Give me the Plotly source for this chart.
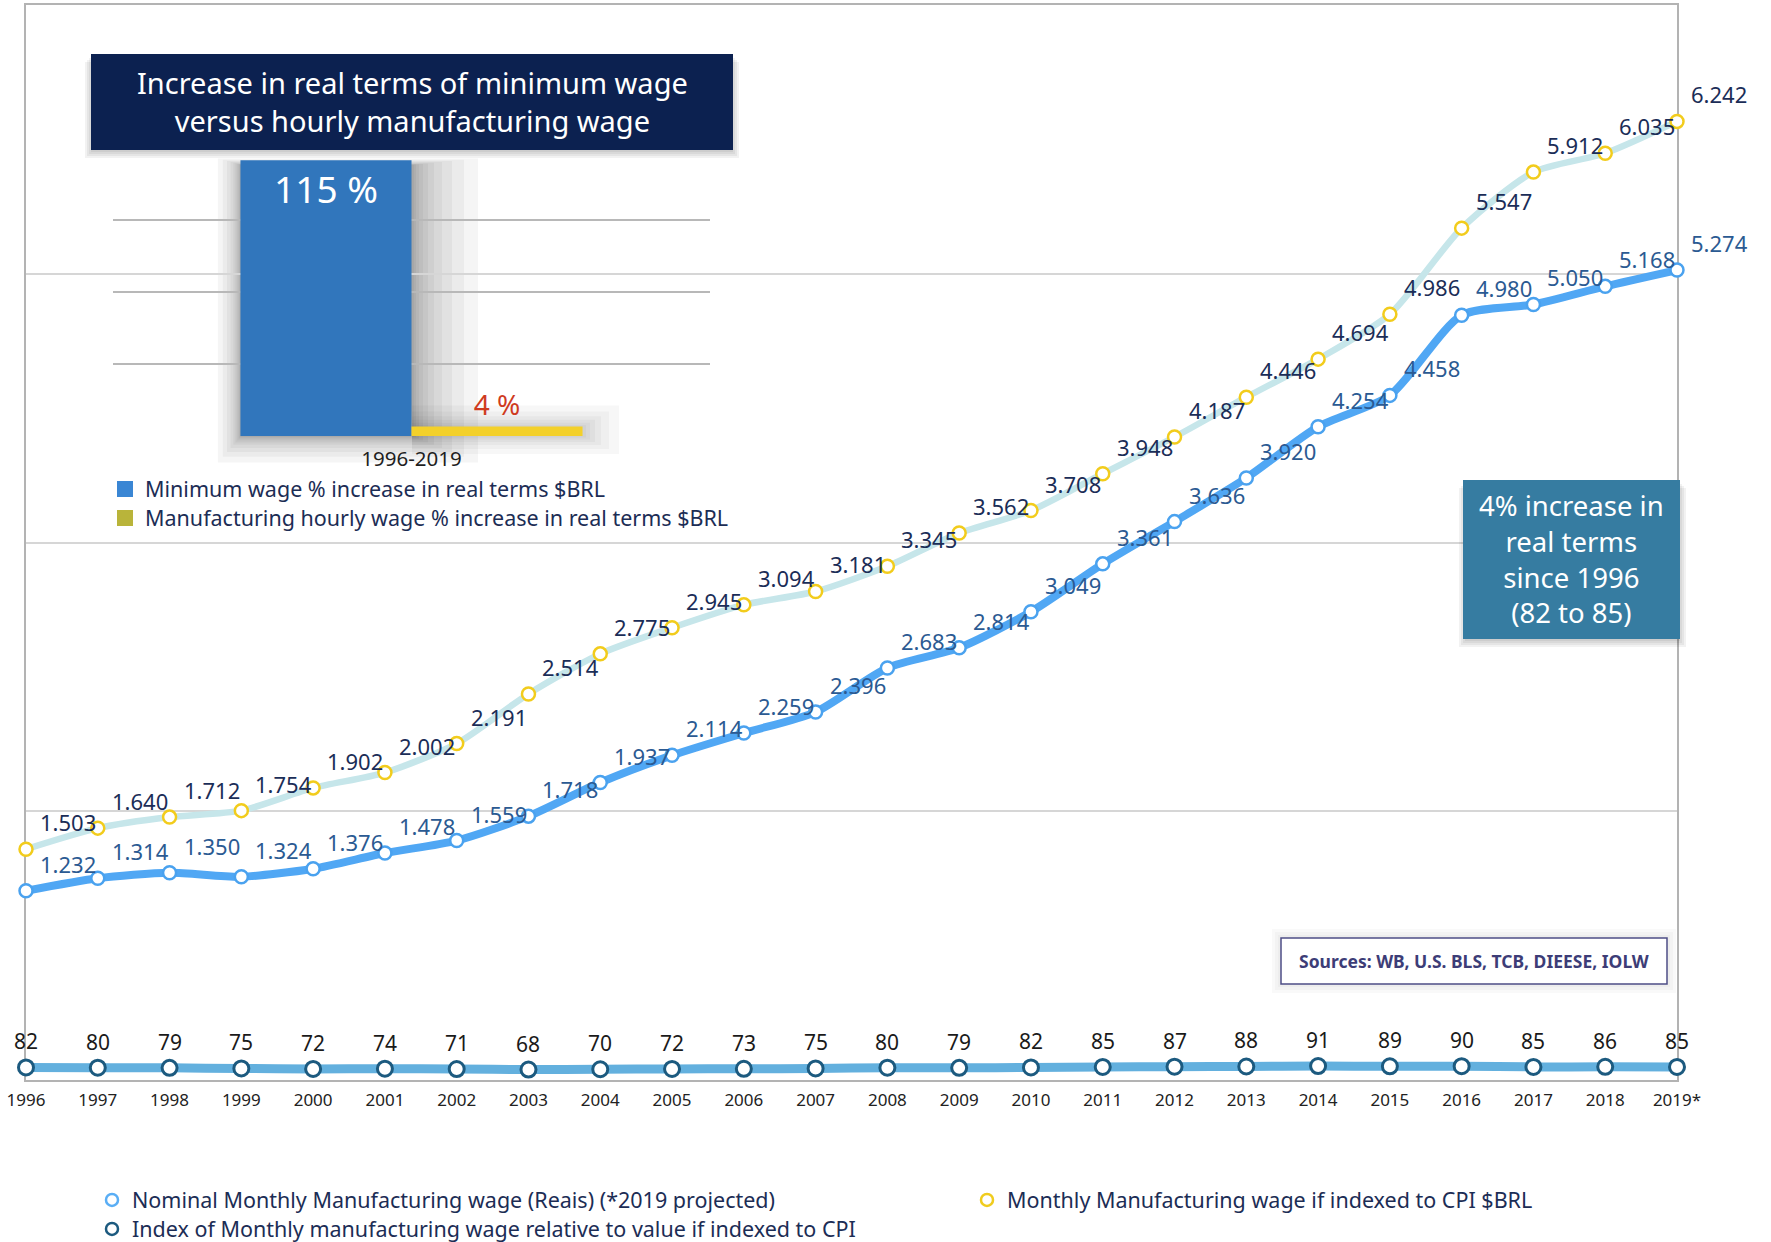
import plotly.graph_objects as go

# ---------------- data ----------------
years = ["1996", "1997", "1998", "1999", "2000", "2001", "2002", "2003", "2004", "2005",
         "2006", "2007", "2008", "2009", "2010", "2011", "2012", "2013", "2014", "2015",
         "2016", "2017", "2018", "2019*"]
nominal = [1232, 1314, 1350, 1324, 1376, 1478, 1559, 1718, 1937, 2114, 2259, 2396,
           2683, 2814, 3049, 3361, 3636, 3920, 4254, 4458, 4980, 5050, 5168, 5274]
indexed_cpi = [1503, 1640, 1712, 1754, 1902, 2002, 2191, 2514, 2775, 2945, 3094, 3181,
               3345, 3562, 3708, 3948, 4187, 4446, 4694, 4986, 5547, 5912, 6035, 6242]
index_rel = [82, 80, 79, 75, 72, 74, 71, 68, 70, 72, 73, 75, 80, 79, 82, 85, 87, 88,
             91, 89, 90, 85, 86, 85]

inset_category = ["1996-2019"]
min_wage_increase = [115]
manuf_wage_increase = [4]

FONT = "'Noto Sans', Lato, sans-serif"
W, H = 1771, 1242
ML, MR, MT, MB = 26, 94, 5, 162
PW, PH = W - ML - MR, H - MT - MB


def px(xp):
    return (xp - ML) / PW


def py(yp):
    return (H - MB - yp) / PH


def fmt(v):
    return f"{v:,}".replace(",", ".")


fig = go.Figure()

# main lines
fig.add_trace(go.Scatter(
    x=years, y=indexed_cpi, mode="lines+markers", showlegend=False,
    line=dict(color="#c6e6ea", width=6.5, shape="spline", smoothing=0.7),
    marker=dict(symbol="circle", size=13, color="white", line=dict(color="#f2cc1c", width=2.5)),
    cliponaxis=False, hoverinfo="x+y"))
fig.add_trace(go.Scatter(
    x=years, y=nominal, mode="lines+markers", showlegend=False,
    line=dict(color="#50a7f4", width=8, shape="spline", smoothing=0.7),
    marker=dict(symbol="circle", size=13, color="white", line=dict(color="#4aa2ef", width=2.5)),
    cliponaxis=False, hoverinfo="x+y"))
fig.add_trace(go.Scatter(
    x=years, y=index_rel, mode="lines+markers", showlegend=False,
    line=dict(color="#63b0de", width=9, shape="spline", smoothing=0.7),
    marker=dict(symbol="circle", size=15, color="white", line=dict(color="#1c5a7f", width=3)),
    cliponaxis=False, hoverinfo="x+y"))

# legend entries (markers only), one legend per entry for exact placement
fig.add_trace(go.Scatter(
    x=[None], y=[None], mode="markers", name="Nominal Monthly Manufacturing wage (Reais) (*2019 projected)",
    marker=dict(symbol="circle", size=12, color="white", line=dict(color="#5aaef5", width=2.5)),
    legend="legend"))
fig.add_trace(go.Scatter(
    x=[None], y=[None], mode="markers", name="Monthly Manufacturing wage if indexed to CPI $BRL",
    marker=dict(symbol="circle", size=12, color="white", line=dict(color="#f0cc1e", width=2.5)),
    legend="legend3"))
fig.add_trace(go.Scatter(
    x=[None], y=[None], mode="markers", name="Index of Monthly manufacturing wage relative to value if indexed to CPI",
    marker=dict(symbol="circle", size=12, color="white", line=dict(color="#1c5a7f", width=2.5)),
    legend="legend4"))

# inset bars
fig.add_trace(go.Bar(
    x=inset_category, y=min_wage_increase, xaxis="x2", yaxis="y2", showlegend=False,
    marker=dict(color="#3176bc", line=dict(width=0)),
    text=[f"{v} %" for v in min_wage_increase], textposition="inside", insidetextanchor="end",
    textangle=0, constraintext="none",
    textfont=dict(family=FONT, size=37, color="white"), cliponaxis=False))
fig.add_trace(go.Bar(
    x=inset_category, y=manuf_wage_increase, xaxis="x2", yaxis="y2", showlegend=False,
    marker=dict(color="#f3d02a", line=dict(width=0)),
    text=[f"{v} %" for v in manuf_wage_increase], textposition="outside", textangle=0,
    constraintext="none",
    textfont=dict(family=FONT, size=28, color="#cf3b1f"), cliponaxis=False))

# inset legend entries
fig.add_trace(go.Scatter(
    x=[None], y=[None], mode="markers", name="Minimum wage % increase in real terms $BRL",
    marker=dict(symbol="square", size=16, color="#3a86d4"), legend="legend2"))
fig.add_trace(go.Scatter(
    x=[None], y=[None], mode="markers", name="Manufacturing hourly wage % increase in real terms $BRL",
    marker=dict(symbol="square", size=16, color="#b9b43a"), legend="legend5"))

annotations = []
for i, v in enumerate(indexed_cpi):
    annotations.append(dict(x=i, y=v, xref="x", yref="y", text=fmt(v), showarrow=False,
                            xanchor="left", yanchor="middle", xshift=12, yshift=27,
                            font=dict(family=FONT, size=22, color="#1b2d57")))
for i, v in enumerate(nominal):
    annotations.append(dict(x=i, y=v, xref="x", yref="y", text=fmt(v), showarrow=False,
                            xanchor="left", yanchor="middle", xshift=12, yshift=27,
                            font=dict(family=FONT, size=22, color="#2b5a92")))
for i, v in enumerate(index_rel):
    annotations.append(dict(x=i, y=v, xref="x", yref="y", text=str(v), showarrow=False,
                            xanchor="center", yanchor="middle", yshift=26,
                            font=dict(family=FONT, size=21, color="#1a1a1a")))

# title box text
annotations.append(dict(xref="paper", yref="paper", x=px(412), y=py(101), showarrow=False,
                        text="Increase in real terms of minimum wage<br>versus hourly manufacturing wage",
                        align="center", xanchor="center", yanchor="middle",
                        font=dict(family=FONT, size=29, color="white")))
# 4% box text
annotations.append(dict(xref="paper", yref="paper", x=px(1571), y=py(559), showarrow=False,
                        text="4% increase in<br>real terms<br>since 1996<br>(82 to 85)",
                        align="center", xanchor="center", yanchor="middle",
                        font=dict(family=FONT, size=27.5, color="white")))
# sources box text
annotations.append(dict(xref="paper", yref="paper", x=px(1474), y=py(961), showarrow=False,
                        text="<b>Sources: WB, U.S. BLS, TCB, DIEESE, IOLW</b>",
                        xanchor="center", yanchor="middle",
                        font=dict(family=FONT, size=17.5, color="#3d3d77")))

shapes = []
# soft shadow around the inset bars (blur approximated by stacked translucent rects)
for e in [2, 4, 7, 11, 16, 22, 30, 40, 52, 66]:
    shapes.append(dict(type="rect", xref="paper", yref="paper", layer="below",
                       x0=px(241 - 0.35 * e), x1=px(412 + e), y0=py(436 + 0.4 * e), y1=py(165 - 0.1 * e),
                       fillcolor="rgba(0,0,0,0.04)", line=dict(width=0)))
for e in [3, 7, 12, 18, 26, 36]:
    shapes.append(dict(type="rect", xref="paper", yref="paper", layer="below",
                       x0=px(412), x1=px(583 + e), y0=py(436 + 0.5 * e), y1=py(427 - 0.6 * e),
                       fillcolor="rgba(0,0,0,0.03)", line=dict(width=0)))
# title box shadow + box
for i in range(4):
    o = 2 * (i + 1)
    shapes.append(dict(type="rect", xref="paper", yref="paper", layer="above",
                       x0=px(91 - o + 2), x1=px(733 + o - 2), y0=py(150 + o), y1=py(54 + o),
                       fillcolor="rgba(0,0,0,0.05)", line=dict(width=0)))
shapes.append(dict(type="rect", xref="paper", yref="paper", layer="above",
                   x0=px(91), x1=px(733), y0=py(150), y1=py(54),
                   fillcolor="#0c2150", line=dict(width=0)))
# 4% box shadow + box
for i in range(4):
    o = 2 * (i + 1)
    shapes.append(dict(type="rect", xref="paper", yref="paper", layer="above",
                       x0=px(1463 - o + 4), x1=px(1680 + o - 2), y0=py(639 + o), y1=py(480 + o),
                       fillcolor="rgba(0,0,0,0.05)", line=dict(width=0)))
shapes.append(dict(type="rect", xref="paper", yref="paper", layer="above",
                   x0=px(1463), x1=px(1680), y0=py(639), y1=py(480),
                   fillcolor="#367ca1", line=dict(width=0)))
# sources box
for i in range(3):
    o = 3 * (i + 1)
    shapes.append(dict(type="rect", xref="paper", yref="paper", layer="above",
                       x0=px(1281 - o), x1=px(1667 + o), y0=py(984 + o), y1=py(938 - o),
                       fillcolor="rgba(0,0,0,0.025)", line=dict(width=0)))
shapes.append(dict(type="rect", xref="paper", yref="paper", layer="above",
                   x0=px(1281), x1=px(1667), y0=py(984), y1=py(938),
                   fillcolor="white", line=dict(color="#4d4d86", width=1.5)))

legend_common = dict(orientation="v", xanchor="left", yanchor="middle",
                     font=dict(family=FONT, size=21.5, color="#1c2d55"),
                     bgcolor="rgba(0,0,0,0)", borderwidth=0)

fig.update_layout(
    width=W, height=H,
    margin=dict(l=ML, r=MR, t=MT, b=MB, pad=0, autoexpand=False),
    paper_bgcolor="white", plot_bgcolor="rgba(0,0,0,0)",
    font=dict(family=FONT, color="#1c2d55"),
    barmode="group", bargap=0.427, bargroupgap=0,
    xaxis=dict(type="category", range=[0, len(years) - 1], showgrid=False, zeroline=False,
               showline=True, mirror=True, linecolor="#b3b3b3", linewidth=2, layer="below traces",
               ticks="outside", ticklen=4, tickcolor="rgba(0,0,0,0)",
               tickfont=dict(family=FONT, size=17, color="#222222"), domain=[0, 1]),
    yaxis=dict(range=[0, 7000], dtick=1750, showgrid=True, gridcolor="#d6d6d6", gridwidth=1.5,
               zeroline=False, showticklabels=False, showline=True, mirror=True,
               linecolor="#b3b3b3", linewidth=2, layer="below traces", domain=[0, 1]),
    xaxis2=dict(domain=[px(113), px(710)], anchor="y2", type="category", showgrid=False,
                zeroline=False, showline=False, ticks="outside", ticklen=4,
                tickcolor="rgba(0,0,0,0)",
                tickfont=dict(family=FONT, size=20.5, color="#1f1f1f")),
    yaxis2=dict(domain=[py(436), py(153)], anchor="x2", range=[0, 118], tickvals=[30, 60, 90],
                showgrid=True, gridcolor="#b8b8b8", gridwidth=1.5, zeroline=False,
                showticklabels=False, showline=False),
    legend=dict(x=px(92), y=py(1200), **legend_common),
    legend3=dict(x=px(967), y=py(1200), **legend_common),
    legend4=dict(x=px(92), y=py(1229), **legend_common),
    legend2=dict(x=px(105), y=py(489), **legend_common),
    legend5=dict(x=px(105), y=py(518), **legend_common),
    annotations=annotations,
    shapes=shapes,
    hovermode="closest",
)

fig.write_html("out.html", config={"displayModeBar": False},
               post_script="document.body.style.margin='0';")
